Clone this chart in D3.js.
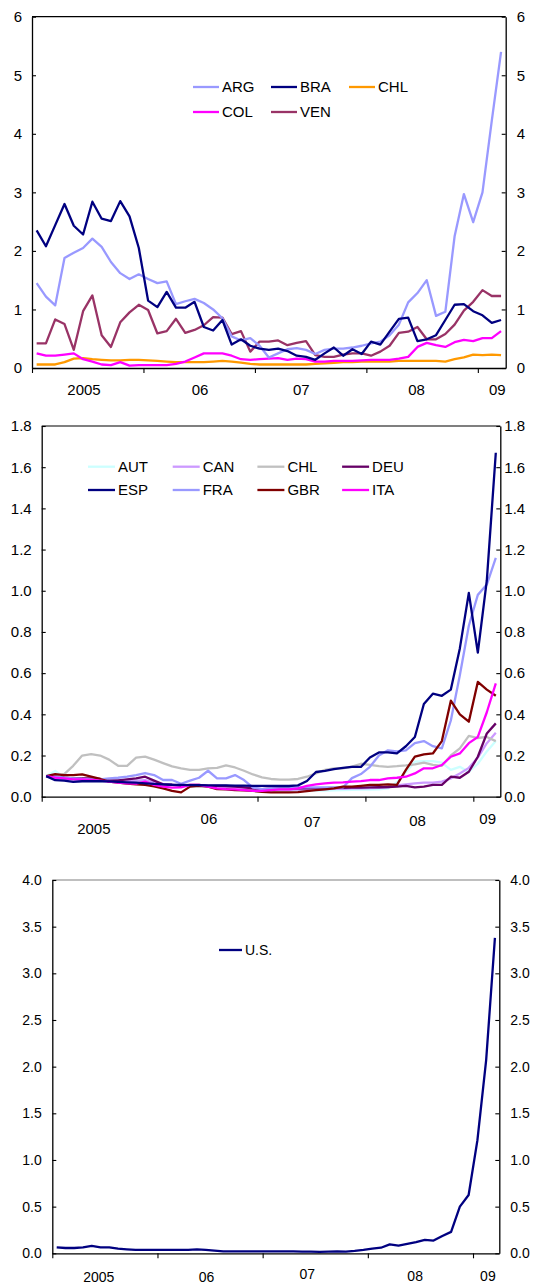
<!DOCTYPE html>
<html><head><meta charset="utf-8">
<script src="https://cdn.jsdelivr.net/npm/d3@7"></script>
<style>html,body{margin:0;padding:0;background:#fff}svg{display:block}text{font-family:"Liberation Sans",Arial,sans-serif;fill:#000}</style>
</head><body><svg id="c" width="537" height="1283"></svg>
<script>
// ---------- data (monthly, Jan 2005 – Mar 2009) ----------
const xTickLabels = ["2005", "06", "07", "08", "09"];
const yTicks1 = [0, 1, 2, 3, 4, 5, 6];
const yTicks2 = [0, 0.2, 0.4, 0.6, 0.8, 1.0, 1.2, 1.4, 1.6, 1.8];
const yTicks3 = [0, 0.5, 1.0, 1.5, 2.0, 2.5, 3.0, 3.5, 4.0];

const ARG = [1.45,1.22,1.07,1.88,1.97,2.05,2.21,2.07,1.81,1.62,1.52,1.60,1.52,1.45,1.48,1.09,1.14,1.18,1.11,1.00,0.85,0.54,0.47,0.51,0.38,0.18,0.25,0.32,0.34,0.31,0.24,0.31,0.33,0.33,0.35,0.38,0.42,0.45,0.56,0.74,1.12,1.28,1.50,0.89,0.96,2.25,2.97,2.49,3.00,4.22,5.40];
const BRA = [2.35,2.08,2.44,2.80,2.43,2.28,2.84,2.55,2.51,2.85,2.59,2.05,1.15,1.04,1.30,1.03,1.03,1.13,0.70,0.64,0.82,0.40,0.49,0.38,0.33,0.31,0.33,0.29,0.21,0.19,0.14,0.25,0.35,0.21,0.32,0.24,0.45,0.40,0.62,0.84,0.86,0.46,0.49,0.56,0.82,1.08,1.09,0.97,0.90,0.77,0.82];
const CHL1 = [0.06,0.06,0.06,0.10,0.16,0.17,0.15,0.14,0.13,0.13,0.14,0.14,0.13,0.12,0.11,0.10,0.10,0.10,0.10,0.11,0.12,0.11,0.09,0.07,0.06,0.06,0.06,0.06,0.06,0.06,0.07,0.08,0.09,0.10,0.10,0.11,0.11,0.11,0.11,0.12,0.12,0.12,0.12,0.12,0.11,0.15,0.18,0.23,0.22,0.23,0.22];
const COL = [0.25,0.21,0.21,0.23,0.25,0.15,0.11,0.06,0.05,0.10,0.04,0.05,0.05,0.05,0.05,0.07,0.11,0.18,0.25,0.25,0.25,0.21,0.15,0.14,0.15,0.16,0.17,0.14,0.16,0.15,0.11,0.11,0.12,0.12,0.12,0.13,0.14,0.14,0.14,0.16,0.19,0.36,0.43,0.39,0.36,0.44,0.48,0.46,0.51,0.51,0.63];
const VEN = [0.42,0.42,0.83,0.75,0.31,0.97,1.24,0.56,0.36,0.78,0.95,1.08,0.99,0.59,0.63,0.84,0.60,0.65,0.73,0.87,0.86,0.58,0.63,0.28,0.45,0.45,0.47,0.39,0.43,0.46,0.22,0.19,0.19,0.23,0.25,0.25,0.21,0.28,0.38,0.60,0.62,0.70,0.49,0.49,0.58,0.74,0.98,1.13,1.33,1.23,1.23];

const AUT = [0.10,0.125,0.095,0.085,0.08,0.078,0.076,0.072,0.07,0.068,0.066,0.064,0.06,0.058,0.055,0.053,0.05,0.05,0.048,0.045,0.043,0.04,0.036,0.033,0.03,0.028,0.027,0.027,0.028,0.029,0.03,0.03,0.031,0.032,0.033,0.034,0.035,0.036,0.04,0.07,0.12,0.17,0.173,0.173,0.165,0.13,0.145,0.12,0.16,0.22,0.27];
const CAN = [0.10,0.09,0.085,0.085,0.083,0.08,0.078,0.076,0.074,0.075,0.078,0.08,0.07,0.062,0.058,0.055,0.055,0.055,0.052,0.05,0.048,0.046,0.043,0.04,0.036,0.034,0.033,0.033,0.034,0.035,0.036,0.037,0.038,0.038,0.04,0.04,0.042,0.043,0.045,0.055,0.06,0.065,0.068,0.068,0.073,0.089,0.113,0.14,0.19,0.26,0.31];
const CHL2 = [0.10,0.10,0.11,0.15,0.20,0.207,0.20,0.18,0.15,0.15,0.19,0.195,0.18,0.163,0.147,0.138,0.13,0.13,0.138,0.14,0.152,0.142,0.126,0.108,0.094,0.086,0.083,0.083,0.086,0.097,0.113,0.13,0.138,0.138,0.146,0.16,0.155,0.148,0.145,0.148,0.152,0.157,0.165,0.155,0.15,0.20,0.235,0.295,0.285,0.29,0.27];
const DEU = [0.10,0.097,0.092,0.089,0.089,0.089,0.086,0.079,0.079,0.084,0.089,0.097,0.078,0.06,0.057,0.053,0.057,0.057,0.053,0.053,0.052,0.049,0.045,0.04,0.037,0.04,0.04,0.04,0.041,0.041,0.042,0.042,0.043,0.043,0.044,0.044,0.045,0.046,0.047,0.049,0.053,0.045,0.049,0.057,0.057,0.097,0.092,0.121,0.194,0.307,0.356];
const ESP = [0.10,0.08,0.078,0.072,0.075,0.076,0.075,0.074,0.072,0.07,0.068,0.065,0.062,0.06,0.058,0.057,0.056,0.056,0.055,0.055,0.055,0.054,0.054,0.053,0.053,0.053,0.052,0.052,0.055,0.076,0.12,0.125,0.134,0.14,0.145,0.145,0.19,0.215,0.215,0.21,0.245,0.29,0.45,0.50,0.49,0.52,0.72,0.99,0.70,1.05,1.67];
const FRA = [0.10,0.097,0.092,0.089,0.086,0.084,0.084,0.089,0.092,0.097,0.105,0.115,0.105,0.081,0.081,0.063,0.078,0.092,0.126,0.089,0.089,0.105,0.081,0.044,0.037,0.04,0.04,0.04,0.045,0.045,0.045,0.045,0.045,0.045,0.09,0.11,0.145,0.20,0.225,0.22,0.225,0.26,0.27,0.245,0.235,0.37,0.59,0.83,0.98,1.03,1.16];
const GBR = [0.10,0.11,0.105,0.105,0.108,0.097,0.086,0.073,0.068,0.063,0.06,0.057,0.05,0.04,0.028,0.021,0.049,0.053,0.049,0.037,0.036,0.032,0.031,0.028,0.024,0.021,0.021,0.021,0.022,0.027,0.032,0.036,0.04,0.049,0.049,0.053,0.057,0.057,0.06,0.057,0.13,0.195,0.205,0.21,0.27,0.466,0.40,0.364,0.557,0.52,0.49];
const ITA = [0.10,0.092,0.089,0.084,0.084,0.081,0.078,0.073,0.068,0.065,0.063,0.073,0.057,0.049,0.044,0.045,0.057,0.057,0.049,0.04,0.037,0.036,0.032,0.028,0.028,0.032,0.036,0.036,0.04,0.053,0.06,0.065,0.068,0.07,0.073,0.076,0.081,0.081,0.089,0.092,0.097,0.113,0.138,0.138,0.154,0.194,0.21,0.26,0.29,0.41,0.55];

const US = [0.064,0.057,0.057,0.064,0.079,0.064,0.064,0.05,0.043,0.036,0.036,0.036,0.036,0.036,0.036,0.036,0.043,0.036,0.029,0.021,0.021,0.021,0.021,0.021,0.021,0.021,0.021,0.021,0.018,0.018,0.015,0.018,0.021,0.018,0.025,0.036,0.05,0.06,0.096,0.082,0.10,0.12,0.143,0.136,0.186,0.23,0.50,0.625,1.21,2.07,3.38];

// ---------- panels ----------
const panels = [
  { left: 32, right: 505.7, top: 16.7, bottom: 368, ymax: 6, yTicks: yTicks1, fmt: d3.format("d"),
    rGap: 11, lGap: 10, topColor: "#000", font: 15,
    xLab: [5.6, 18.1, 29.0, 41.4, 50.1], xLabY: [394.5, 394.5, 394.5, 394.5, 394.5],
    series: [
      { name: "ARG", data: ARG, color: "#9999FF" },
      { name: "BRA", data: BRA, color: "#000080" },
      { name: "CHL", data: CHL1, color: "#FF9900" },
      { name: "COL", data: COL, color: "#FF00FF" },
      { name: "VEN", data: VEN, color: "#993366" }],
    drawOrder: ["CHL", "COL", "VEN", "ARG", "BRA"],
    legend: { x0: 193, dx: 78, y0: 87, dy: 25, cols: 3, len: 26 } },
  { left: 41.7, right: 500.3, top: 426, bottom: 796.7, ymax: 1.8, yTicks: yTicks2, fmt: d3.format(".1f"),
    rGap: 4, lGap: 10, topColor: "#000", font: 15,
    xLab: [5.8, 18.6, 30.1, 41.8, 49.6], xLabY: [834, 824, 827, 825.5, 824],
    series: [
      { name: "AUT", data: AUT, color: "#CCFFFF" },
      { name: "CAN", data: CAN, color: "#CC99FF" },
      { name: "CHL", data: CHL2, color: "#C0C0C0" },
      { name: "DEU", data: DEU, color: "#660066" },
      { name: "ESP", data: ESP, color: "#000080" },
      { name: "FRA", data: FRA, color: "#9999FF" },
      { name: "GBR", data: GBR, color: "#800000" },
      { name: "ITA", data: ITA, color: "#FF00FF" }],
    drawOrder: ["AUT", "CAN", "CHL", "DEU", "FRA", "GBR", "ITA", "ESP"],
    legend: { x0: 88, dx: 84.7, y0: 466.7, dy: 23.3, cols: 4, len: 27 } },
  { left: 52.3, right: 499.3, top: 880, bottom: 1253.3, ymax: 4, yTicks: yTicks3, fmt: d3.format(".1f"),
    rGap: 11, lGap: 10.5, topColor: "#808080", font: 14,
    xLab: [5.3, 17.6, 29.1, 41.4, 49.7], xLabY: [1281.5, 1281.5, 1278.5, 1281, 1281],
    series: [{ name: "U.S.", data: US, color: "#000080" }],
    drawOrder: ["U.S."],
    legend: { x0: 219, dx: 80, y0: 950, dy: 25, cols: 1, len: 23 } }
];

const svg = d3.select("#c");
const NMONTHS = 51;

panels.forEach(p => {
  const x = d3.scaleLinear().domain([0, NMONTHS]).range([p.left, p.right]);
  const y = d3.scaleLinear().domain([0, p.ymax]).range([p.bottom, p.top]);
  const g = svg.append("g");

  // top border
  g.append("line").attr("x1", p.left).attr("x2", p.right).attr("y1", p.top).attr("y2", p.top)
    .attr("stroke", p.topColor).attr("stroke-width", 1.2);

  // left axis
  const la = g.append("g").attr("transform", `translate(${p.left},0)`)
    .call(d3.axisLeft(y).tickValues(p.yTicks).tickFormat(p.fmt).tickSizeInner(-4).tickSizeOuter(0).tickPadding(p.lGap));
  // right axis
  const ra = g.append("g").attr("transform", `translate(${p.right},0)`)
    .call(d3.axisRight(y).tickValues(p.yTicks).tickFormat(p.fmt).tickSizeInner(-4).tickSizeOuter(0).tickPadding(p.rGap));
  // bottom axis
  const ba = g.append("g").attr("transform", `translate(0,${p.bottom})`)
    .call(d3.axisBottom(x).tickValues([0, 12, 24, 36, 48]).tickFormat("").tickSizeInner(5).tickSizeOuter(0));
  [la, ra, ba].forEach(a => {
    a.select(".domain").attr("stroke", "#000").attr("stroke-width", 1.3);
    a.selectAll(".tick line").attr("stroke", "#000").attr("stroke-width", 1.1);
    a.selectAll("text").style("font-size", p.font + "px").attr("fill", "#000")
      .style("font-family", '"Liberation Sans",Arial,sans-serif');
  });

  // x labels
  g.selectAll(".xl").data(xTickLabels).enter().append("text")
    .attr("x", (d, i) => x(p.xLab[i])).attr("y", (d, i) => p.xLabY[i])
    .attr("text-anchor", "middle").style("font-size", p.font + "px").text(d => d);

  // lines
  const line = d3.line().x((d, i) => x(i + 0.5)).y(d => y(d));
  p.drawOrder.forEach(nm => {
    const s = p.series.find(s => s.name === nm);
    g.append("path").datum(s.data).attr("d", line).attr("fill", "none")
      .attr("stroke", s.color).attr("stroke-width", 2.3).attr("stroke-linejoin", "round");
  });

  // legend
  const L = p.legend;
  p.series.forEach((s, k) => {
    const cx = L.x0 + (k % L.cols) * L.dx, cy = L.y0 + Math.floor(k / L.cols) * L.dy;
    g.append("line").attr("x1", cx).attr("x2", cx + L.len).attr("y1", cy).attr("y2", cy)
      .attr("stroke", s.color).attr("stroke-width", 2.3);
    g.append("text").attr("x", cx + L.len + 3).attr("y", cy).attr("dy", "0.36em")
      .style("font-size", p.font + "px").text(s.name);
  });
});
</script></body></html>
